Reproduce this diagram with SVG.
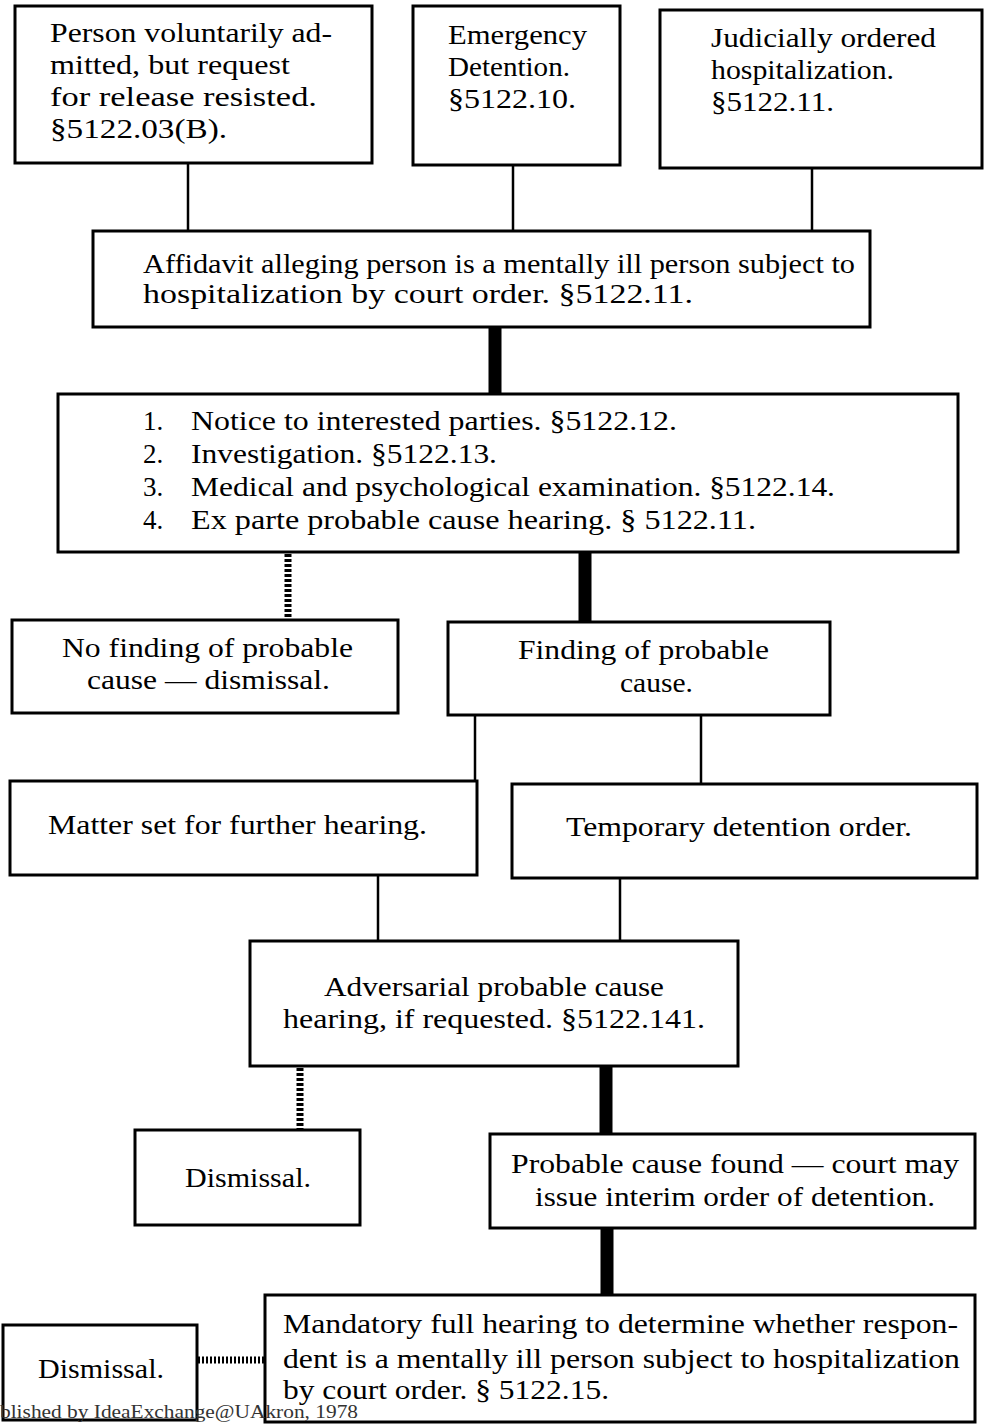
<svg xmlns="http://www.w3.org/2000/svg" width="987" height="1424" viewBox="0 0 987 1424">
<style>
.box{fill:#fff;stroke:#000;stroke-width:3}
.t{font-family:"Liberation Serif","Times New Roman",serif;font-size:27px;fill:#000}
.thin{stroke:#000;stroke-width:2.5;fill:none}
.thick{stroke:#000;stroke-width:13;fill:none}
.dash{stroke:#000;stroke-width:7;stroke-dasharray:3 2;fill:none}
.dashh{stroke:#000;stroke-width:7;stroke-dasharray:2 2;fill:none}
</style>
<rect width="987" height="1424" fill="#fff"/>
<g id="connectors">
<line class="thin" x1="188" y1="163" x2="188" y2="231"/>
<line class="thin" x1="513" y1="165" x2="513" y2="231"/>
<line class="thin" x1="812" y1="168" x2="812" y2="231"/>
<line class="thick" x1="495" y1="327" x2="495" y2="394"/>
<line class="dash" x1="288" y1="554" x2="288" y2="618"/>
<line class="thick" x1="585" y1="552" x2="585" y2="621"/>
<line class="thin" x1="475" y1="715" x2="475" y2="782"/>
<line class="thin" x1="701" y1="715" x2="701" y2="784"/>
<line class="thin" x1="378" y1="875" x2="378" y2="941"/>
<line class="thin" x1="620" y1="878" x2="620" y2="941"/>
<line class="dash" x1="300" y1="1068" x2="300" y2="1130"/>
<line class="thick" x1="606" y1="1066" x2="606" y2="1134"/>
<line class="thick" x1="607" y1="1228" x2="607" y2="1295"/>
<line class="dashh" x1="198" y1="1360" x2="265" y2="1360"/>
</g>
<g id="n1"><rect class="box" x="15" y="6" width="357" height="157"/>
<text class="t" x="50" y="42" textLength="282" lengthAdjust="spacingAndGlyphs">Person voluntarily ad-</text>
<text class="t" x="50" y="74" textLength="240" lengthAdjust="spacingAndGlyphs">mitted, but request</text>
<text class="t" x="50" y="106" textLength="267" lengthAdjust="spacingAndGlyphs">for release resisted.</text>
<text class="t" x="50" y="138" textLength="177" lengthAdjust="spacingAndGlyphs">§5122.03(B).</text></g>
<g id="n2"><rect class="box" x="413" y="6" width="207" height="159"/>
<text class="t" x="448" y="44" textLength="139" lengthAdjust="spacingAndGlyphs">Emergency</text>
<text class="t" x="448" y="76" textLength="122" lengthAdjust="spacingAndGlyphs">Detention.</text>
<text class="t" x="448" y="108" textLength="128" lengthAdjust="spacingAndGlyphs">§5122.10.</text></g>
<g id="n3"><rect class="box" x="660" y="10" width="322" height="158"/>
<text class="t" x="711" y="47" textLength="225" lengthAdjust="spacingAndGlyphs">Judicially ordered</text>
<text class="t" x="711" y="79" textLength="183" lengthAdjust="spacingAndGlyphs">hospitalization.</text>
<text class="t" x="711" y="111" textLength="123" lengthAdjust="spacingAndGlyphs">§5122.11.</text></g>
<g id="n4"><rect class="box" x="93" y="231" width="777" height="96"/>
<text class="t" x="143" y="273" textLength="712" lengthAdjust="spacingAndGlyphs">Affidavit alleging person is a mentally ill person subject to</text>
<text class="t" x="143" y="303" textLength="550" lengthAdjust="spacingAndGlyphs">hospitalization by court order. §5122.11.</text></g>
<g id="n5"><rect class="box" x="58" y="394" width="900" height="158"/>
<text class="t" x="143" y="430">1.</text><text class="t" x="191" y="430" textLength="486" lengthAdjust="spacingAndGlyphs">Notice to interested parties. §5122.12.</text>
<text class="t" x="143" y="463">2.</text><text class="t" x="191" y="463" textLength="306" lengthAdjust="spacingAndGlyphs">Investigation. §5122.13.</text>
<text class="t" x="143" y="496">3.</text><text class="t" x="191" y="496" textLength="644" lengthAdjust="spacingAndGlyphs">Medical and psychological examination. §5122.14.</text>
<text class="t" x="143" y="529">4.</text><text class="t" x="191" y="529" textLength="565" lengthAdjust="spacingAndGlyphs">Ex parte probable cause hearing. § 5122.11.</text></g>
<g id="n6"><rect class="box" x="12" y="620" width="386" height="93"/>
<text class="t" x="62" y="657" textLength="291" lengthAdjust="spacingAndGlyphs">No finding of probable</text>
<text class="t" x="87" y="689" textLength="243" lengthAdjust="spacingAndGlyphs">cause — dismissal.</text></g>
<g id="n7"><rect class="box" x="448" y="622" width="382" height="93"/>
<text class="t" x="518" y="659" textLength="251" lengthAdjust="spacingAndGlyphs">Finding of probable</text>
<text class="t" x="620" y="692" textLength="73" lengthAdjust="spacingAndGlyphs">cause.</text></g>
<g id="n8"><rect class="box" x="10" y="781" width="467" height="94"/>
<text class="t" x="48" y="834" textLength="379" lengthAdjust="spacingAndGlyphs">Matter set for further hearing.</text></g>
<g id="n9"><rect class="box" x="512" y="784" width="465" height="94"/>
<text class="t" x="566" y="836" textLength="346" lengthAdjust="spacingAndGlyphs">Temporary detention order.</text></g>
<g id="n10"><rect class="box" x="250" y="941" width="488" height="125"/>
<text class="t" x="324" y="996" textLength="340" lengthAdjust="spacingAndGlyphs">Adversarial probable cause</text>
<text class="t" x="283" y="1028" textLength="422" lengthAdjust="spacingAndGlyphs">hearing, if requested. §5122.141.</text></g>
<g id="n11"><rect class="box" x="135" y="1130" width="225" height="95"/>
<text class="t" x="185" y="1187" textLength="126" lengthAdjust="spacingAndGlyphs">Dismissal.</text></g>
<g id="n12"><rect class="box" x="490" y="1134" width="485" height="94"/>
<text class="t" x="511" y="1173" textLength="448" lengthAdjust="spacingAndGlyphs">Probable cause found — court may</text>
<text class="t" x="535" y="1206" textLength="400" lengthAdjust="spacingAndGlyphs">issue interim order of detention.</text></g>
<g id="n13"><rect class="box" x="265" y="1295" width="710" height="127"/>
<text class="t" x="283" y="1333" textLength="675" lengthAdjust="spacingAndGlyphs">Mandatory full hearing to determine whether respon-</text>
<text class="t" x="283" y="1368" textLength="677" lengthAdjust="spacingAndGlyphs">dent is a mentally ill person subject to hospitalization</text>
<text class="t" x="283" y="1399" textLength="326" lengthAdjust="spacingAndGlyphs">by court order. § 5122.15.</text></g>
<g id="n14"><rect class="box" x="3" y="1325" width="194" height="95"/>
<text class="t" x="38" y="1378" textLength="126" lengthAdjust="spacingAndGlyphs">Dismissal.</text></g>
<text x="0" y="1418" font-family="Liberation Serif, serif" font-size="18" fill="#333" textLength="358" lengthAdjust="spacingAndGlyphs">blished by IdeaExchange@UAkron, 1978</text>
</svg>
